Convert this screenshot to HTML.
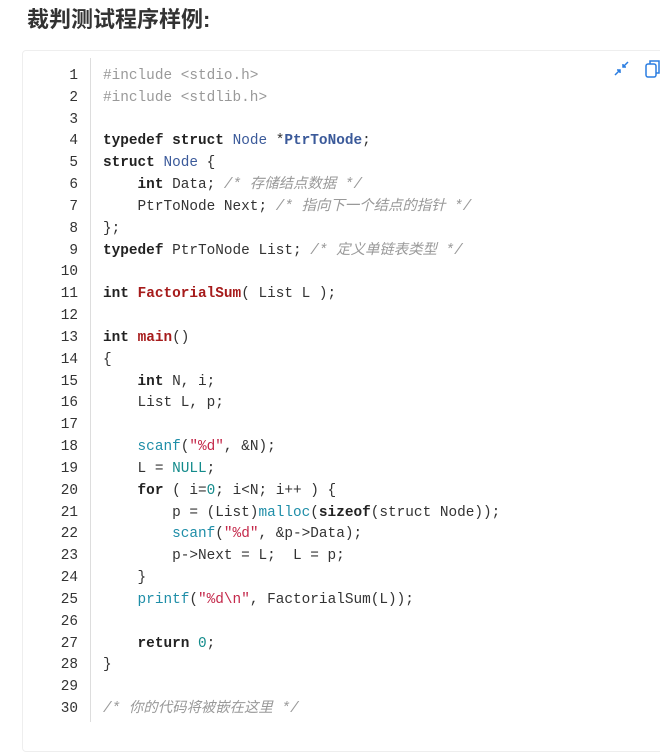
<!DOCTYPE html><html><head><meta charset="utf-8"><style>
body{margin:0;background:#fff;width:660px;height:722px;overflow:hidden;font-family:"Liberation Sans","Noto Sans CJK SC",sans-serif}
h1{position:absolute;left:27px;top:2px;margin:0;font-size:22px;font-weight:bold;color:#333;font-family:"Liberation Sans","Noto Sans CJK SC",sans-serif}
.box{position:absolute;left:22px;top:50px;width:660px;height:700px;border:1px solid #eee;border-radius:4px;background:#fff}
.ln{position:absolute;left:40px;top:66px;width:38px;text-align:right;font:14.4px/21.83px "Liberation Mono",monospace;color:#333}
.div{position:absolute;left:90px;top:58px;width:1px;height:664px;background:#ddd}
pre{position:absolute;left:103px;top:66px;margin:0;font:14.4px/21.83px "Liberation Mono","Noto Sans CJK SC",monospace;color:#333}
.c{color:#999;font-style:italic}.k{font-weight:bold;color:#222}.t{color:#3b5a9a}.tb{color:#3b5a9a;font-weight:bold}
.f{color:#a61b1b;font-weight:bold}.b{color:#1f8ea8}.s{color:#c4284a}.n{color:#138b8b}
</style></head><body>
<h1>裁判测试程序样例:</h1>
<div class="box"></div>
<svg style="position:absolute;left:612px;top:58px" width="50" height="22"><g stroke="#2a7de1" stroke-width="1.5" fill="none"><path d="M3 17 L8 12 M5 12 H8 V15 M16 4 L11 9 M11 6 V9 H14"/><rect x="34" y="6" width="10" height="13" rx="2"/><path d="M38 6 V3 H47 V15 H44"/></g></svg>
<div class="ln"><div>1</div><div>2</div><div>3</div><div>4</div><div>5</div><div>6</div><div>7</div><div>8</div><div>9</div><div>10</div><div>11</div><div>12</div><div>13</div><div>14</div><div>15</div><div>16</div><div>17</div><div>18</div><div>19</div><div>20</div><div>21</div><div>22</div><div>23</div><div>24</div><div>25</div><div>26</div><div>27</div><div>28</div><div>29</div><div>30</div></div>
<div class="div"></div>
<pre><span class="c" style="font-style:normal">#include &lt;stdio.h&gt;</span>
<span class="c" style="font-style:normal">#include &lt;stdlib.h&gt;</span>

<span class="k">typedef</span> <span class="k">struct</span> <span class="t">Node</span> *<span class="tb">PtrToNode</span>;
<span class="k">struct</span> <span class="t">Node</span> {
    <span class="k">int</span> Data; <span class="c">/* 存储结点数据 */</span>
    PtrToNode Next; <span class="c">/* 指向下一个结点的指针 */</span>
};
<span class="k">typedef</span> PtrToNode List; <span class="c">/* 定义单链表类型 */</span>

<span class="k">int</span> <span class="f">FactorialSum</span>( List L );

<span class="k">int</span> <span class="f">main</span>()
{
    <span class="k">int</span> N, i;
    List L, p;

    <span class="b">scanf</span>(<span class="s">"%d"</span>, &amp;N);
    L = <span class="n">NULL</span>;
    <span class="k">for</span> ( i=<span class="n">0</span>; i&lt;N; i++ ) {
        p = (List)<span class="b">malloc</span>(<span class="k">sizeof</span>(struct Node));
        <span class="b">scanf</span>(<span class="s">"%d"</span>, &amp;p-&gt;Data);
        p-&gt;Next = L;  L = p;
    }
    <span class="b">printf</span>(<span class="s">"%d\n"</span>, FactorialSum(L));

    <span class="k">return</span> <span class="n">0</span>;
}

<span class="c">/* 你的代码将被嵌在这里 */</span></pre>
</body></html>
